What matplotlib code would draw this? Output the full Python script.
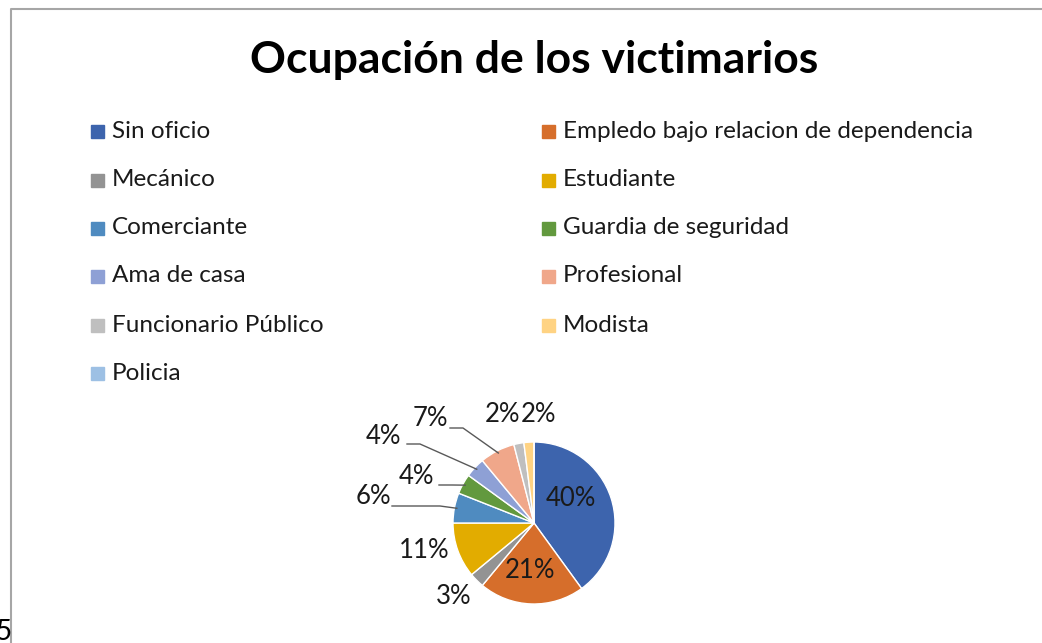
"""Pie chart: Ocupación de los victimarios."""

import matplotlib.pyplot as plt
import numpy as np
from matplotlib.patches import Rectangle

W, H = 1042, 643

TITLE = "Ocupación de los victimarios"
categories = [
    "Sin oficio", "Empledo bajo relacion de dependencia", "Mecánico",
    "Estudiante", "Comerciante", "Guardia de seguridad", "Ama de casa",
    "Profesional", "Funcionario Público", "Modista", "Policia",
]
percent = [40, 21, 3, 11, 6, 4, 4, 7, 2, 2, 0]
colors = [
    "#3d64ad", "#d66e2b", "#939393", "#e2ac00", "#4f8bc0", "#62993e",
    "#8ea0d5", "#f0a78a", "#bfbfbf", "#ffd383", "#9dc0e4",
]

# label centres in pixel coords (top-down) and optional leader start/elbow
label_pos = [
    (571, 498), (530, 571), (454, 597), (424, 551), (373, 496),
    (416, 476), (383, 437), (430, 418), (503, 415), (538, 415), None,
]
leaders = {
    4: [(392, 506), (440, 506)],
    5: [(439, 485), (452, 485)],
    6: [(407, 444), (420, 444)],
    7: [(450, 428), (463, 428)],
}

FONT = ["Lato", "DejaVu Sans"]
CENTER = (534, H - 523)
RADIUS = 81


def px(x, y):
    return x, H - y


def main() -> None:
    plt.rcParams["font.family"] = FONT
    fig = plt.figure(figsize=(W / 100, H / 100), dpi=100)
    ax = fig.add_axes([0, 0, 1, 1])

    # chart frame (only top and left visible in the crop)
    ax.plot([11, 11, W], [0, H - 9, H - 9], color="#a6a6a6", lw=1.5)

    ax.text(534, H - 60, TITLE, ha="center", va="center",
            fontsize=32, fontweight="bold", color="black")

    # legend, filled row by row in two columns
    col_x = [91, 542]
    row_y = [131, 180, 228, 276, 325, 373]
    for i, (name, c) in enumerate(zip(categories, colors)):
        x0 = col_x[i % 2]
        y0 = row_y[i // 2]
        ax.add_patch(Rectangle(px(x0, y0 + 6.5), 13, 13, color=c))
        ax.text(*px(x0 + 21, y0), name, ha="left", va="center",
                fontsize=17.5, color="#1a1a1a")

    wedges, _ = ax.pie(
        percent, colors=colors, startangle=90, counterclock=False,
        center=CENTER, radius=RADIUS, frame=True,
        wedgeprops=dict(edgecolor="white", linewidth=1),
    )
    ax.set_xlim(0, W)
    ax.set_ylim(0, H)
    ax.set_aspect("equal")
    ax.axis("off")

    for i, (w, p) in enumerate(zip(wedges, percent)):
        if label_pos[i] is None:
            continue
        ax.text(*px(*label_pos[i]), f"{p}%", ha="center", va="center",
                fontsize=18.5, color="#1a1a1a")
        if i in leaders:
            mid = np.deg2rad((w.theta1 + w.theta2) / 2)
            ex = CENTER[0] + RADIUS * 0.97 * np.cos(mid)
            ey = CENTER[1] + RADIUS * 0.97 * np.sin(mid)
            (sx, sy), (bx, by) = leaders[i]
            ax.plot([sx, bx, ex], [H - sy, H - by, ey],
                    color="#595959", lw=1)

    # page number peeking in from the left edge
    fig.text(-0.004, (H - 632) / H, "5", fontsize=20, va="center")

    fig.savefig("out.png", dpi=100)


if __name__ == "__main__":
    main()
